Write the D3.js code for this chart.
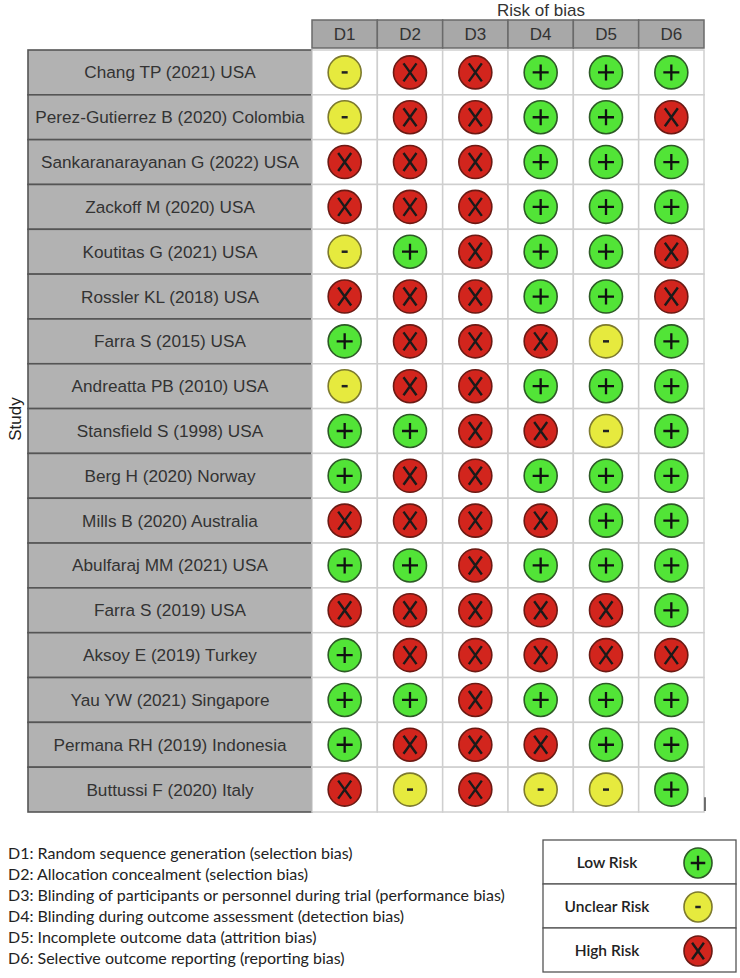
<!DOCTYPE html>
<html>
<head>
<meta charset="utf-8">
<script src="https://cdn.jsdelivr.net/npm/d3@7"></script>
<style>
  body { margin: 0; background: #fff; }
  svg { display: block; }
</style>
</head>
<body>
<div id="vis"></div>
<script>
// Data
const studies = [
  "Chang TP (2021) USA",
  "Perez-Gutierrez B (2020) Colombia",
  "Sankaranarayanan G (2022) USA",
  "Zackoff M (2020) USA",
  "Koutitas G (2021) USA",
  "Rossler KL (2018) USA",
  "Farra S (2015) USA",
  "Andreatta PB (2010) USA",
  "Stansfield S (1998) USA",
  "Berg H (2020) Norway",
  "Mills B (2020) Australia",
  "Abulfaraj MM (2021) USA",
  "Farra S (2019) USA",
  "Aksoy E (2019) Turkey",
  "Yau YW (2021) Singapore",
  "Permana RH (2019) Indonesia",
  "Buttussi F (2020) Italy"
];
const domains = ["D1", "D2", "D3", "D4", "D5", "D6"];
// L = low, U = unclear, H = high
const judgements = [
  ["U", "H", "H", "L", "L", "L"],
  ["U", "H", "H", "L", "L", "H"],
  ["H", "H", "H", "L", "L", "L"],
  ["H", "H", "H", "L", "L", "L"],
  ["U", "L", "H", "L", "L", "H"],
  ["H", "H", "H", "L", "L", "H"],
  ["L", "H", "H", "H", "U", "L"],
  ["U", "H", "H", "L", "L", "L"],
  ["L", "L", "H", "H", "U", "L"],
  ["L", "H", "H", "L", "L", "L"],
  ["H", "H", "H", "H", "L", "L"],
  ["L", "L", "H", "L", "L", "L"],
  ["H", "H", "H", "H", "H", "L"],
  ["L", "H", "H", "H", "H", "H"],
  ["L", "L", "H", "L", "L", "L"],
  ["L", "H", "H", "H", "L", "L"],
  ["H", "U", "H", "U", "U", "L"]
];
const domainNotes = [
  "D1: Random sequence generation (selection bias)",
  "D2: Allocation concealment (selection bias)",
  "D3: Blinding of participants or personnel during trial (performance bias)",
  "D4: Blinding during outcome assessment (detection bias)",
  "D5: Incomplete outcome data (attrition bias)",
  "D6: Selective outcome reporting (reporting bias)"
];
const legendKeys = ["L", "U", "H"];
const legendLabels = ["Low Risk", "Unclear Risk", "High Risk"];

const fills = { L: "#52e437", U: "#e6ea3e", H: "#d2251d" };
const strokes = { L: "#2d5a26", U: "#7d7a2e", H: "#6b1a14" };

const W = 740, H = 978;
const labelLeft = 28, labelRight = 312, gridRight = 704;
const headTop = 20, gridTop = 50, gridBottom = 812;

const svg = d3.select("#vis").append("svg")
  .attr("width", W)
  .attr("height", H);

const x = d3.scaleBand().domain(domains).range([labelRight, gridRight]);
const y = d3.scaleBand().domain(d3.range(studies.length)).range([gridTop, gridBottom]);

const font = "'Liberation Sans', Arial, sans-serif";

// Title + axis label
svg.append("text")
  .attr("x", 541)
  .attr("y", 16)
  .attr("text-anchor", "middle")
  .style("font-family", font)
  .style("font-size", "17px")
  .style("fill", "#333")
  .text("Risk of bias");

svg.append("text")
  .attr("transform", `translate(21, ${(gridTop + gridBottom) / 2 - 12}) rotate(-90)`)
  .attr("text-anchor", "middle")
  .style("font-family", font)
  .style("font-size", "17px")
  .style("fill", "#222")
  .text("Study");

// Header row
const header = svg.append("g");
header.selectAll("rect")
  .data(domains)
  .join("rect")
  .attr("x", d => x(d))
  .attr("y", headTop)
  .attr("width", x.bandwidth())
  .attr("height", gridTop - headTop - 2)
  .attr("fill", "#a8a8a8")
  .attr("stroke", "#6a6a6a")
  .attr("stroke-width", 1.5);

header.selectAll("text")
  .data(domains)
  .join("text")
  .attr("x", d => x(d) + x.bandwidth() / 2)
  .attr("y", headTop + 20)
  .attr("text-anchor", "middle")
  .style("font-family", font)
  .style("font-size", "17px")
  .style("fill", "#333")
  .text(d => d);

// Study label column
const labels = svg.append("g");
labels.selectAll("rect")
  .data(studies)
  .join("rect")
  .attr("x", labelLeft)
  .attr("y", (d, i) => y(i))
  .attr("width", labelRight - labelLeft)
  .attr("height", y.bandwidth())
  .attr("fill", "#b2b2b2")
  .attr("stroke", "#555")
  .attr("stroke-width", 1.6);

labels.selectAll("text")
  .data(studies)
  .join("text")
  .attr("x", (labelLeft + labelRight) / 2)
  .attr("y", (d, i) => y(i) + y.bandwidth() / 2 + 6)
  .attr("text-anchor", "middle")
  .style("font-family", font)
  .style("font-size", "17.2px")
  .style("fill", "#333")
  .text(d => d);

// Grid cells
const cells = [];
judgements.forEach((row, i) => row.forEach((v, j) => cells.push({ i, d: domains[j], v })));

const grid = svg.append("g");
grid.selectAll("rect")
  .data(cells)
  .join("rect")
  .attr("x", c => x(c.d))
  .attr("y", c => y(c.i))
  .attr("width", x.bandwidth())
  .attr("height", y.bandwidth())
  .attr("fill", "#fff")
  .attr("stroke", "#cfcfcf")
  .attr("stroke-width", 1.5);

// Draw one risk symbol
function drawSymbol(g, cx, cy, v, r, rx) {
  g.append("ellipse")
    .attr("cx", cx).attr("cy", cy)
    .attr("rx", rx || r).attr("ry", r)
    .attr("fill", fills[v])
    .attr("stroke", strokes[v])
    .attr("stroke-width", 1.6);
  const s = r / 16.5;
  if (v === "L") {
    g.append("path")
      .attr("d", `M${cx - 8 * s},${cy} H${cx + 8 * s} M${cx},${cy - 8 * s} V${cy + 8 * s}`)
      .attr("stroke", "#111")
      .attr("stroke-width", 2.3);
  } else if (v === "U") {
    g.append("path")
      .attr("d", `M${cx - 3 * s},${cy} H${cx + 3 * s}`)
      .attr("stroke", "#222")
      .attr("stroke-width", 2.5);
  } else {
    const dx = 6.5 * s, dy = 9 * s;
    g.append("path")
      .attr("d", `M${cx - dx},${cy - dy} L${cx + dx},${cy + dy} M${cx + dx},${cy - dy} L${cx - dx},${cy + dy}`)
      .attr("stroke", "#1a1a1a")
      .attr("stroke-width", 2.4);
  }
}

const marks = svg.append("g");
cells.forEach(c => {
  drawSymbol(marks, x(c.d) + x.bandwidth() / 2, y(c.i) + y.bandwidth() / 2, c.v, 16.5);
});

// small stray tick at bottom right of the grid
svg.append("line")
  .attr("x1", gridRight + 1).attr("x2", gridRight + 1)
  .attr("y1", y(studies.length - 1) + 30).attr("y2", gridBottom - 1)
  .attr("stroke", "#444")
  .attr("stroke-width", 1.5);

// Domain notes
const noteFont = "Lato, 'Open Sans', sans-serif";
svg.append("g").selectAll("text")
  .data(domainNotes)
  .join("text")
  .attr("x", 8)
  .attr("y", (d, i) => 859 + i * 21)
  .style("font-family", noteFont)
  .style("font-size", "16px")
  .style("fill", "#222")
  .text(d => d);

// Legend box
const legX = 543, legW = 193, legTop = 840;
const ly = d3.scaleBand().domain(legendKeys).range([legTop, 972]);
const leg = svg.append("g");
leg.selectAll("rect")
  .data(legendKeys)
  .join("rect")
  .attr("x", legX)
  .attr("y", d => ly(d))
  .attr("width", legW)
  .attr("height", ly.bandwidth())
  .attr("fill", "#fff")
  .attr("stroke", "#555")
  .attr("stroke-width", 1.3);

leg.selectAll("text")
  .data(legendKeys)
  .join("text")
  .attr("x", 607)
  .attr("y", d => ly(d) + ly.bandwidth() / 2 + 5.5)
  .attr("text-anchor", "middle")
  .style("font-family", noteFont)
  .style("font-size", "15.5px")
  .style("font-weight", "600")
  .style("fill", "#222")
  .text((d, i) => legendLabels[i]);

legendKeys.forEach(k => {
  drawSymbol(leg, 698, ly(k) + ly.bandwidth() / 2 + 1, k, 15, 14);
});
</script>
</body>
</html>
